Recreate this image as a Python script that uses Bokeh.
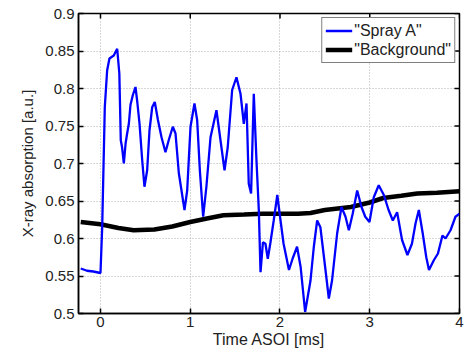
import math
from bokeh.plotting import figure
from bokeh.models import FixedTicker, Legend, LegendItem, Range1d
from bokeh.embed import file_html
from bokeh.resources import INLINE

spray_x = [-0.22, -0.15, -0.08, 0.0, 0.019, 0.048, 0.074, 0.10, 0.148, 0.186, 0.21, 0.226, 0.24, 0.26,
           0.28, 0.297, 0.316, 0.334, 0.36, 0.39, 0.41, 0.435, 0.465, 0.49, 0.52, 0.546, 0.576, 0.605,
           0.64, 0.68, 0.724, 0.76, 0.806, 0.836, 0.873, 0.936, 0.966, 1.003, 1.047, 1.077, 1.107,
           1.144, 1.18, 1.226, 1.292, 1.337, 1.382, 1.418, 1.467, 1.515, 1.56, 1.597, 1.627, 1.652,
           1.678, 1.708, 1.738, 1.764, 1.783, 1.81, 1.838, 1.864, 1.894, 1.93, 1.97, 2.006, 2.04,
           2.10, 2.14, 2.19, 2.23, 2.28, 2.34, 2.377, 2.414, 2.45, 2.507, 2.544, 2.58, 2.637, 2.685,
           2.73, 2.767, 2.81, 2.86, 2.908, 2.95, 2.997, 3.045, 3.10, 3.157, 3.21, 3.257, 3.305, 3.36,
           3.42, 3.47, 3.51, 3.547, 3.59, 3.63, 3.66, 3.714, 3.76, 3.81, 3.844, 3.90, 3.955, 4.0]
spray_y = [0.560, 0.557, 0.556, 0.554, 0.615, 0.775, 0.824, 0.840, 0.844, 0.853, 0.820, 0.731, 0.722, 0.700,
           0.727, 0.740, 0.753, 0.778, 0.791, 0.802, 0.782, 0.753, 0.704, 0.669, 0.691, 0.744, 0.775, 0.782,
           0.758, 0.735, 0.715, 0.731, 0.749, 0.740, 0.687, 0.638, 0.664, 0.749, 0.780, 0.758, 0.691,
           0.629, 0.669, 0.735, 0.771, 0.731, 0.691, 0.722, 0.798, 0.815, 0.793, 0.753, 0.780, 0.673,
           0.660, 0.793, 0.704, 0.638, 0.555, 0.595, 0.593, 0.573, 0.595, 0.624, 0.658, 0.624, 0.593,
           0.558, 0.573, 0.589, 0.562, 0.502, 0.544, 0.589, 0.624, 0.615, 0.558, 0.520, 0.544, 0.607, 0.642,
           0.629, 0.611, 0.633, 0.664, 0.642, 0.629, 0.622, 0.655, 0.671, 0.658, 0.638, 0.624, 0.635, 0.598,
           0.578, 0.593, 0.620, 0.638, 0.607, 0.575, 0.558, 0.571, 0.580, 0.604, 0.600, 0.611, 0.629, 0.633]

bg_x = [-0.22, 0.0, 0.2, 0.37, 0.6, 0.8, 1.0, 1.2, 1.37, 1.6, 1.8, 2.0, 2.2, 2.34, 2.5, 2.79, 3.0,
        3.15, 3.35, 3.53, 3.75, 4.0]
bg_y = [0.622, 0.619, 0.614, 0.611, 0.612, 0.616, 0.622, 0.627, 0.631, 0.632, 0.633, 0.633, 0.633,
        0.634, 0.638, 0.642, 0.648, 0.654, 0.657, 0.660, 0.661, 0.663]

x_ticks = [0, 1, 2, 3, 4]
x_tick_labels = ["0", "1", "2", "3", "4"]
y_ticks = [0.5, 0.55, 0.6, 0.65, 0.7, 0.75, 0.8, 0.85, 0.9]
y_tick_labels = ["0.5", "0.55", "0.6", "0.65", "0.7", "0.75", "0.8", "0.85", "0.9"]

series_names = ['"Spray A"', '"Background"']
x_label = "Time ASOI [ms]"
y_label = "X-ray absorption [a.u.]"

X_MIN, X_MAX = -0.245, 4.0
Y_MIN, Y_MAX = 0.5, 0.9

FONT = "Liberation Sans"
FS = "15px"

p = figure(width=467, height=354, output_backend="svg", toolbar_location=None,
           x_range=Range1d(X_MIN, X_MAX), y_range=Range1d(Y_MIN, Y_MAX),
           min_border_left=78, min_border_right=8, min_border_top=13, min_border_bottom=41,
           background_fill_color="white", border_fill_color="white")
p.outline_line_color = "black"
p.outline_line_width = 1.5

for ax in (p.xaxis[0], p.yaxis[0]):
    ax.axis_line_color = "black"
    ax.axis_line_width = 1.5
    ax.major_tick_in = 5
    ax.major_tick_out = 0
    ax.major_tick_line_width = 1.5
    ax.minor_tick_line_color = None
    ax.major_label_text_font = FONT
    ax.major_label_text_font_size = FS
    ax.major_label_text_color = "#222222"
    ax.axis_label_text_font = FONT
    ax.axis_label_text_font_size = FS
    ax.axis_label_text_font_style = "normal"
    ax.axis_label_text_color = "#222222"

p.xaxis[0].ticker = FixedTicker(ticks=x_ticks)
p.xaxis[0].major_label_overrides = {t: l for t, l in zip(x_ticks, x_tick_labels)}
p.xaxis[0].axis_label = x_label
p.xaxis[0].axis_label_text_font_size = "16px"
p.xaxis[0].major_label_standoff = 3
p.xaxis[0].axis_label_standoff = 1

p.yaxis[0].ticker = FixedTicker(ticks=y_ticks)
p.yaxis[0].major_label_overrides = {t: l for t, l in zip(y_ticks, y_tick_labels)}
p.yaxis[0].axis_label = y_label
p.yaxis[0].major_label_standoff = 4
p.yaxis[0].axis_label_standoff = 6

for g in (p.xgrid[0], p.ygrid[0]):
    g.grid_line_color = "#b0b0b0"
    g.grid_line_dash = "1 2"
    g.grid_line_width = 1
p.xgrid[0].ticker = FixedTicker(ticks=x_ticks)
p.ygrid[0].ticker = FixedTicker(ticks=y_ticks)

# inward tick marks on the top and right frame edges (MATLAB box style)
p.scatter(x_ticks, [Y_MAX] * len(x_ticks), marker="dash", size=10, angle=math.pi / 2,
          line_color="black", line_width=1.5)
p.scatter([X_MAX] * len(y_ticks), y_ticks, marker="dash", size=10,
          line_color="black", line_width=1.5)

r_bg = p.line(bg_x, bg_y, line_color="black", line_width=4.5)
r_sp = p.line(spray_x, spray_y, line_color="#0000ff", line_width=2.3)

legend = Legend(items=[LegendItem(label=series_names[0], renderers=[r_sp]),
                       LegendItem(label=series_names[1], renderers=[r_bg])],
                location="top_right", margin=4, padding=3, spacing=0,
                glyph_width=27, glyph_height=19, label_standoff=2,
                label_text_font=FONT, label_text_font_size="16px", label_text_color="#222222",
                border_line_color="black", border_line_width=1.5,
                background_fill_color="white", background_fill_alpha=1)
p.add_layout(legend, "center")

open("out.html", "w").write(file_html(p, INLINE))
